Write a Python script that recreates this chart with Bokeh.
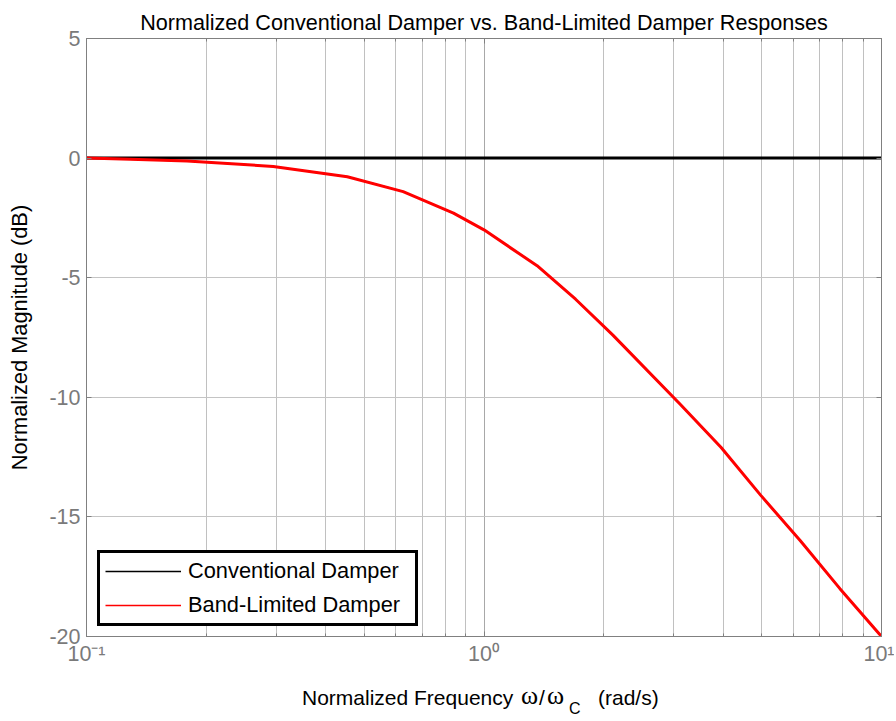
from bokeh.plotting import figure
from bokeh.layouts import column
from bokeh.models import FixedTicker, LogAxis, LinearAxis, Legend, LegendItem, Div
from bokeh.embed import file_html
from bokeh.resources import INLINE

# ---- data ----
freq = [0.1, 0.129, 0.179, 0.295, 0.453, 0.626, 0.838, 1.0, 1.36, 1.70,
        2.11, 3.12, 3.95, 4.97, 6.25, 7.86, 10.0]
band_limited_db = [0.0, -0.05, -0.12, -0.35, -0.78, -1.4, -2.3, -3.0, -4.5,
                   -5.9, -7.4, -10.3, -12.1, -14.1, -16.0, -18.0, -20.0]
conv_freq = [0.1, 10.0]
conv_db = [0.0, 0.0]

x_ticks = [0.1, 1, 10]
x_tick_labels = ["10\u207b\u00b9", "10\u2070", "10\u00b9"]
x_minor_ticks = [0.2, 0.3, 0.4, 0.5, 0.6, 0.7, 0.8, 0.9,
                 2, 3, 4, 5, 6, 7, 8, 9]
y_ticks = [-20, -15, -10, -5, 0, 5]
y_tick_labels = ["-20", "-15", "-10", "-5", "0", "5"]

title_text = "Normalized Conventional Damper vs. Band-Limited Damper Responses"
y_label = "Normalized Magnitude (dB)"
legend_labels = ["Conventional Damper", "Band-Limited Damper"]

FONT = "Liberation Sans"
FS = "21.8px"
TITLE_FS = "21.6px"
TFS = "21.5px"
TICK_COLOR = "#7a7a7a"
AXIS_COLOR = "#808080"

W = 894
p = figure(width=W, height=676, x_axis_type="log",
           x_range=(0.1, 10), y_range=(-20, 5),
           output_backend="svg", toolbar_location=None,
           min_border_left=86, min_border_right=13,
           min_border_top=38, min_border_bottom=40)

p.title.text = title_text
p.title.text_font = FONT
p.title.text_font_size = TITLE_FS
p.title.text_font_style = "normal"
p.title.text_color = "black"
p.title.align = "center"
p.title.text_line_height = 1.0
p.title.standoff = 8
p.title.offset = 0

p.background_fill_color = "white"
p.border_fill_color = "white"
p.outline_line_color = AXIS_COLOR

# x axis
xt = FixedTicker(ticks=x_ticks, minor_ticks=x_minor_ticks)
xa = p.xaxis[0]
xa.ticker = xt
xa.major_label_overrides = {t: l for t, l in zip(x_ticks, x_tick_labels)}
xa.major_label_text_font = FONT
xa.major_label_text_font_size = TFS
xa.major_label_text_color = TICK_COLOR
xa.major_label_standoff = 5
xa.axis_line_color = AXIS_COLOR
xa.major_tick_line_color = AXIS_COLOR
xa.minor_tick_line_color = AXIS_COLOR
xa.major_tick_in = 5
xa.major_tick_out = 0
xa.minor_tick_in = 3
xa.minor_tick_out = 0

# y axis
yt = FixedTicker(ticks=y_ticks, minor_ticks=[])
ya = p.yaxis[0]
ya.ticker = yt
ya.major_label_overrides = {t: l for t, l in zip(y_ticks, y_tick_labels)}
ya.major_label_text_font = FONT
ya.major_label_text_font_size = TFS
ya.major_label_text_color = TICK_COLOR
ya.major_label_standoff = 6
ya.axis_line_color = AXIS_COLOR
ya.major_tick_line_color = AXIS_COLOR
ya.major_tick_in = 5
ya.major_tick_out = 0
ya.minor_tick_line_color = None
ya.axis_label = y_label
ya.axis_label_text_font = FONT
ya.axis_label_text_font_size = FS
ya.axis_label_text_font_style = "normal"
ya.axis_label_text_color = "black"
ya.axis_label_standoff = 14

# box axes (top/right) with inward ticks, no labels
top = LogAxis(ticker=FixedTicker(ticks=x_ticks, minor_ticks=x_minor_ticks),
              major_label_overrides={t: " " for t in x_ticks},
              major_label_text_font_size="1px", major_label_standoff=0,
              major_label_text_color=None,
              axis_line_color=AXIS_COLOR, major_tick_line_color=AXIS_COLOR,
              minor_tick_line_color=AXIS_COLOR,
              major_tick_in=5, major_tick_out=0, minor_tick_in=3, minor_tick_out=0)
p.add_layout(top, "above")
right = LinearAxis(ticker=FixedTicker(ticks=y_ticks, minor_ticks=[]),
                   major_label_overrides={t: " " for t in y_ticks},
                   major_label_text_font_size="1px", major_label_standoff=0,
                   major_label_text_color=None,
                   axis_line_color=AXIS_COLOR, major_tick_line_color=AXIS_COLOR,
                   minor_tick_line_color=None,
                   major_tick_in=5, major_tick_out=0)
p.add_layout(right, "right")

# grids
p.xgrid.grid_line_color = "#a8a8a8"
p.xgrid.minor_grid_line_color = "#c0c0c0"
p.ygrid.grid_line_color = "#c4c4c4"
p.ygrid.minor_grid_line_color = None

# thin legend proxies drawn under the thick data lines
lg1 = p.line(conv_freq, conv_db, line_color="#000000", line_width=1.5)
lg2 = p.line(freq, band_limited_db, line_color="#ff0000", line_width=1.5)

# data lines
p.line(conv_freq, conv_db, line_color="black", line_width=3)
p.line(freq, band_limited_db, line_color="red", line_width=3)

legend = Legend(items=[LegendItem(label=legend_labels[0], renderers=[lg1]),
                       LegendItem(label=legend_labels[1], renderers=[lg2])],
                location=(11, 10), orientation="vertical",
                padding=5, spacing=8, label_height=26, glyph_height=26,
                glyph_width=76, label_standoff=7, label_width=222,
                label_text_font=FONT, label_text_font_size=FS,
                label_text_color="black",
                border_line_color="black", border_line_width=3,
                border_line_alpha=1.0,
                background_fill_color="white", background_fill_alpha=1.0,
                margin=0)
p.add_layout(legend, "center")

# x-axis label with a real subscript, as HTML text under the plot
xlabel_html = (
    '<div style="position:relative;width:%dpx;height:43px;'
    'font-family:\'Liberation Sans\';font-size:21px;color:black;line-height:25px;">'
    '<span style="position:absolute;left:302px;top:9px;white-space:nowrap;">Normalized Frequency</span>'
    '<span style="position:absolute;left:521px;top:7px;font-family:\'Liberation Serif\';font-size:26px;">\u03c9</span>'
    '<span style="position:absolute;left:539px;top:9px;">/</span>'
    '<span style="position:absolute;left:547px;top:7px;font-family:\'Liberation Serif\';font-size:26px;">\u03c9</span>'
    '<span style="position:absolute;left:569px;top:20px;font-size:16px;">C</span>'
    '<span style="position:absolute;left:598px;top:9px;white-space:nowrap;">(rad/s)</span>'
    '</div>' % W
)
xlabel = Div(text=xlabel_html, width=W, height=43, margin=0)

layout = column(p, xlabel, spacing=0)
open("out.html", "w").write(file_html(layout, INLINE))
